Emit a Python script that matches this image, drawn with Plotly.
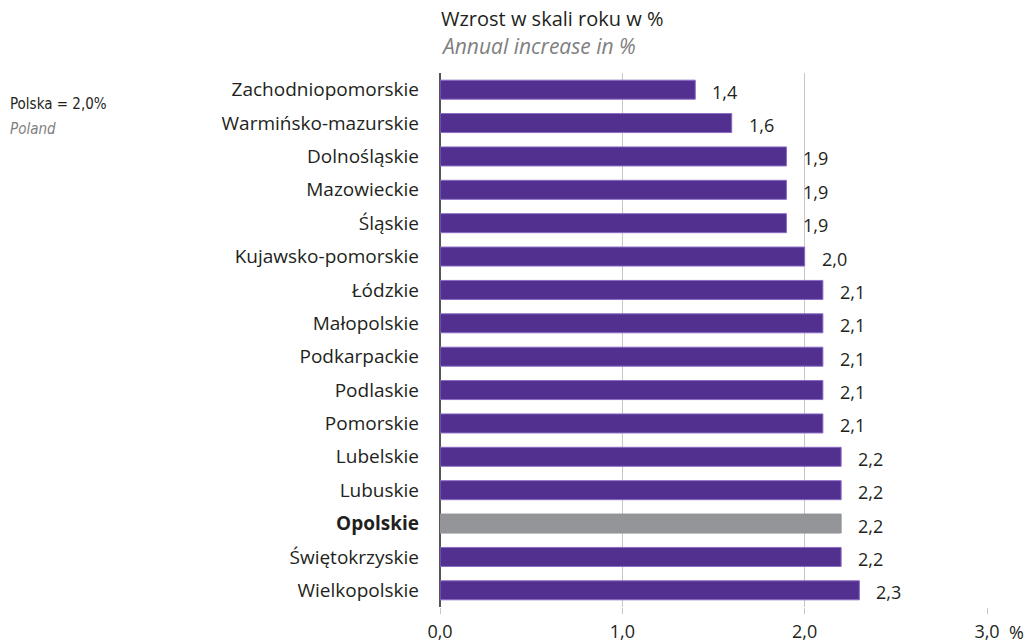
import plotly.graph_objects as go

regions = ["Zachodniopomorskie", "Warmińsko-mazurskie", "Dolnośląskie", "Mazowieckie",
           "Śląskie", "Kujawsko-pomorskie", "Łódzkie", "Małopolskie", "Podkarpackie",
           "Podlaskie", "Pomorskie", "Lubelskie", "Lubuskie", "Opolskie",
           "Świętokrzyskie", "Wielkopolskie"]
values = [1.4, 1.6, 1.9, 1.9, 1.9, 2.0, 2.1, 2.1, 2.1, 2.1, 2.1, 2.2, 2.2, 2.2, 2.2, 2.3]
highlight = "Opolskie"
tick_vals = [0, 1, 2, 3]
tick_text = ["0,0", "1,0", "2,0", "3,0"]
title_pl = "Wzrost w skali roku w %"
title_en = "Annual increase in %"
note_pl = "Polska = 2,0%"
note_en = "Poland"

PURPLE = "#52308f"
PURPLE_EDGE = "#8a6cc4"
GRAY = "#939598"
TEXT = "#231f20"
FONT = "Open Sans"
NARROW = "Liberation Sans Narrow, DejaVu Sans Condensed, Liberation Sans"

colors = [GRAY if r == highlight else PURPLE for r in regions]
edges = [GRAY if r == highlight else PURPLE_EDGE for r in regions]
ticklabels = [f"<b>{r}</b>" if r == highlight else r for r in regions]

W, H = 1032, 644
ML, MR, MT, MB = 440, 45, 73, 37
PW = W - ML - MR

fig = go.Figure(go.Bar(
    x=values, y=regions, orientation="h",
    marker=dict(color=colors, line=dict(color=edges, width=1)),
    width=0.57, hoverinfo="skip",
))

for r, v in zip(regions, values):
    fig.add_annotation(x=v, y=r, xref="x", yref="y", text=f"{v:.1f}".replace(".", ","),
                       showarrow=False, xanchor="left", yanchor="middle",
                       xshift=15, yshift=-2, font=dict(family=FONT, size=18, color=TEXT))

fig.add_annotation(x=tick_vals[-1], y=0, xref="x", yref="paper", text="%",
                   showarrow=False, xanchor="left", yanchor="top", xshift=20, yshift=-11,
                   font=dict(family=FONT, size=18, color=TEXT))

fig.add_annotation(x=0, y=1, xref="paper", yref="paper", text=title_pl, showarrow=False,
                   xanchor="left", yanchor="middle", yshift=55, xshift=-1,
                   font=dict(family=FONT, size=20, color=TEXT))
fig.add_annotation(x=0, y=1, xref="paper", yref="paper", text=f"<i>{title_en}</i>",
                   showarrow=False, xanchor="left", yanchor="middle", yshift=27, xshift=-1,
                   font=dict(family=FONT, size=21, color="#808080"))

fig.add_annotation(x=(8 - ML) / PW, y=1, xref="paper", yref="paper", text=note_pl,
                   showarrow=False, xanchor="left", yanchor="middle", yshift=-31,
                   font=dict(family=NARROW, size=15, color=TEXT))
fig.add_annotation(x=(8 - ML) / PW, y=1, xref="paper", yref="paper", text=f"<i>{note_en}</i>",
                   showarrow=False, xanchor="left", yanchor="middle", yshift=-56,
                   font=dict(family=NARROW, size=15, color="#808080"))

fig.update_layout(
    width=W, height=H,
    margin=dict(l=ML, r=MR, t=MT, b=MB),
    paper_bgcolor="white", plot_bgcolor="white",
    showlegend=False,
    xaxis=dict(range=[0, 3], tickvals=tick_vals, ticktext=tick_text, automargin=False,
               showgrid=True, gridcolor="#c6c6c6", gridwidth=1,
               zeroline=True, zerolinecolor="#555555", zerolinewidth=1.5,
               ticks="outside", ticklen=6, tickcolor="#c6c6c6", ticklabelstandoff=2,
               showline=False, fixedrange=True,
               tickfont=dict(family=FONT, size=18, color=TEXT)),
    yaxis=dict(categoryorder="array", categoryarray=regions, autorange="reversed",
               automargin=False, fixedrange=True,
               tickvals=regions, ticktext=ticklabels, ticks="", ticklabelstandoff=20,
               showgrid=False, zeroline=False, showline=False,
               tickfont=dict(family=FONT, size=19, color=TEXT)),
)

fig.write_html("out.html", config={"displayModeBar": False},
               post_script="document.body.style.margin='0';document.body.style.overflow='hidden';")
